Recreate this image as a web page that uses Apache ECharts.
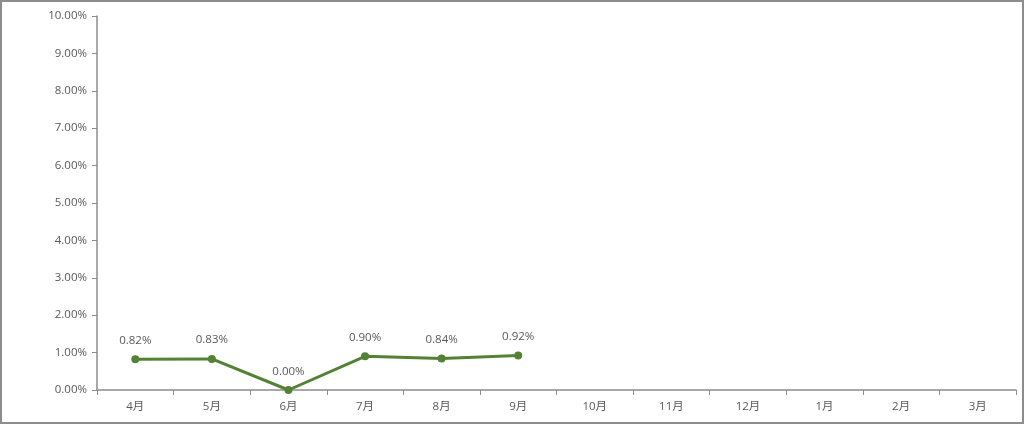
<!DOCTYPE html>
<html><head><meta charset="utf-8">
<script src="https://cdn.jsdelivr.net/npm/echarts@6/dist/echarts.min.js"></script>
<style>
html,body{margin:0;padding:0;background:#fff;}
#c{width:1024px;height:424px;box-sizing:border-box;border:2px solid #8c8c8c;}
</style></head><body>
<div id="c"></div>
<script>
const categories = ['4月','5月','6月','7月','8月','9月','10月','11月','12月','1月','2月','3月'];
const values = [0.82, 0.83, 0.00, 0.90, 0.84, 0.92];
const yTicks = [0,1,2,3,4,5,6,7,8,9,10];

const font = '"Open Sans","Noto Sans CJK SC",sans-serif';
const chart = echarts.init(document.getElementById('c'), null, {renderer:'canvas'});
chart.setOption({
  animation:false,
  grid:{left:95, right:6, top:14, bottom:32},
  xAxis:{
    type:'category', data:categories, boundaryGap:true,
    axisLine:{lineStyle:{color:'#8c8c8c', width:1.5}},
    axisTick:{show:true, length:5, lineStyle:{color:'#8c8c8c'}},
    axisLabel:{color:'#595959', fontSize:11.5, fontFamily:font, margin:11}
  },
  yAxis:{
    type:'value', min:yTicks[0], max:yTicks[yTicks.length-1], interval:1,
    axisLine:{show:true, lineStyle:{color:'#8c8c8c', width:1.5}},
    axisTick:{show:true, length:5, lineStyle:{color:'#8c8c8c'}},
    splitLine:{show:false},
    axisLabel:{color:'#595959', fontSize:11.5, fontFamily:font, margin:10,
      formatter:v=>v.toFixed(2)+'%'}
  },
  series:[{
    type:'line', data:values,
    lineStyle:{color:'#548235', width:3},
    itemStyle:{color:'#548235'},
    symbol:'circle', symbolSize:8,
    label:{show:true, position:'top', distance:9, color:'#595959', fontSize:11.5, fontFamily:font,
      formatter:p=>p.value.toFixed(2)+'%'}
  }]
});
</script></body></html>
